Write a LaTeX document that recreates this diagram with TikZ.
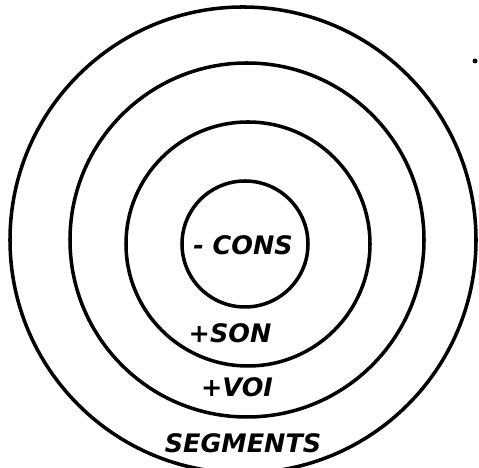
\documentclass[tikz,border=0pt]{standalone}
\usepackage{fontspec}
\newfontfamily\handfont{DejaVu Sans}
\usepackage{tikz}
\usetikzlibrary{positioning}

\begin{document}
\begin{tikzpicture}[
  ring/.style={draw=black, line width=2pt},
  tag/.style={font=\handfont\bfseries\itshape\fontsize{14.5}{16}\selectfont, inner sep=1pt}
]
  \useasboundingbox (0,0) rectangle (9.58,9.36);

  % Ringe von aussen nach innen
  \draw[ring] (4.86,4.56) circle (4.66);
  \draw[ring] (4.94,4.56) circle (3.54);
  \draw[ring] (4.96,4.48) circle (2.44);
  \draw[ring] (4.90,4.48) circle (1.26);

  % Beschriftungen
  \node[tag] (cons) at (4.86,4.46) {- CONS};
  \node[tag] (son) at (4.60,2.70) {+SON};
  \node[tag] (voi) at (4.74,1.62) {+VOI};
  \node[tag] (seg) at (4.86,0.50) {SEGMENTS};

  \fill (9.50,8.14) circle (0.05);
\end{tikzpicture}
\end{document}
